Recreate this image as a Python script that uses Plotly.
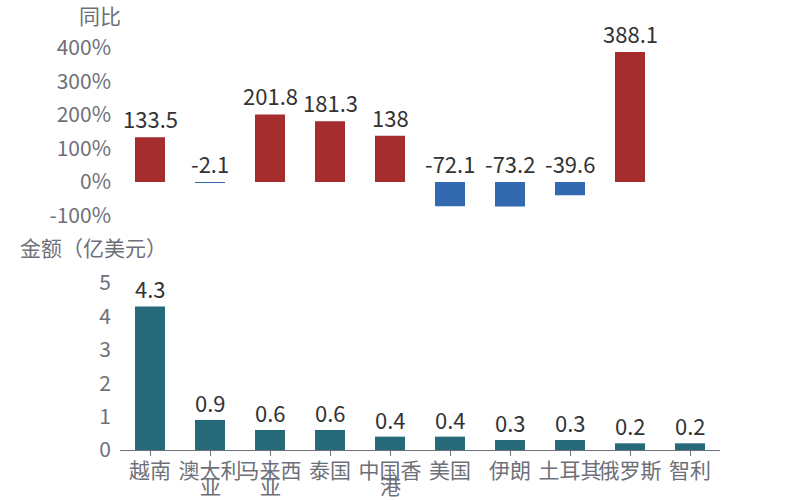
import plotly.graph_objects as go

categories = ["越南", "澳大利亚", "马来西亚", "泰国", "中国香港", "美国", "伊朗", "土耳其", "俄罗斯", "智利"]
yoy = [133.5, -2.1, 201.8, 181.3, 138, -72.1, -73.2, -39.6, 388.1, None]
amount = [4.3, 0.9, 0.6, 0.6, 0.4, 0.4, 0.3, 0.3, 0.2, 0.2]
yoy_ticks = [-100, 0, 100, 200, 300, 400]
amt_ticks = [0, 1, 2, 3, 4, 5]

FONT = "Noto Sans CJK SC"
GRAY = "#6e7079"
DARK = "#333333"
RED = "#a52d2d"
BLUE = "#3269af"
TEAL = "#266a7a"
FS = 21
LFS = 22
CFS = 21

xs = list(range(len(categories)))
yoy_colors = [RED if (v is not None and v >= 0) else BLUE for v in yoy]
first_lines = [c[:3] for c in categories]
second_lines = [c[3:] for c in categories]

fig = go.Figure()
fig.add_trace(go.Bar(x=xs, y=yoy, marker=dict(color=yoy_colors, line=dict(width=0)), width=0.5,
                     xaxis="x", yaxis="y", hoverinfo="skip"))
fig.add_trace(go.Bar(x=xs, y=amount, marker=dict(color=TEAL, line=dict(width=0)), width=0.5,
                     xaxis="x2", yaxis="y2", hoverinfo="skip"))

annotations = [
    dict(text="同比", x=100 / 800, y=1 - 15 / 500, xref="paper", yref="paper", showarrow=False,
         xanchor="center", yanchor="middle", font=dict(family=FONT, size=FS, color=GRAY)),
    dict(text="金额（亿美元）", x=93 / 800, y=1 - 247 / 500, xref="paper", yref="paper",
         showarrow=False, xanchor="center", yanchor="middle",
         font=dict(family=FONT, size=FS, color=GRAY)),
]
for x, v in zip(xs, yoy):
    if v is None:
        continue
    annotations.append(dict(text=f"{v:g}", x=x, y=max(v, 0), xref="x", yref="y", showarrow=False,
                            xanchor="center", yanchor="bottom", yshift=1,
                            font=dict(family=FONT, size=LFS, color=DARK)))
for x, v in zip(xs, amount):
    annotations.append(dict(text=f"{v:g}", x=x, y=v, xref="x2", yref="y2", showarrow=False,
                            xanchor="center", yanchor="bottom", yshift=0,
                            font=dict(family=FONT, size=LFS, color=DARK)))
for x, s in zip(xs, second_lines):
    if s:
        annotations.append(dict(text=s, x=x, y=0, xref="x2", yref="y2", showarrow=False,
                                xanchor="center", yanchor="middle", yshift=-35, borderpad=0,
                                font=dict(family=FONT, size=CFS, color=GRAY)))

fig.update_layout(
    width=800, height=500,
    margin=dict(l=0, r=0, t=0, b=0),
    paper_bgcolor="white", plot_bgcolor="white",
    showlegend=False,
    font=dict(family=FONT, size=FS, color=GRAY),
    xaxis=dict(domain=[0.15, 0.9], range=[-0.5, 9.5], anchor="y", showticklabels=False,
               showline=False, showgrid=False, zeroline=False, ticks="", automargin=False),
    yaxis=dict(domain=[0.569, 0.904], range=[-100, 400], anchor="x", tickvals=yoy_ticks,
               ticktext=[f"{t}%" for t in yoy_ticks], showgrid=False, zeroline=False,
               showline=False, ticks="", ticklabelstandoff=8, automargin=False,
               tickfont=dict(family=FONT, size=FS, color=GRAY)),
    xaxis2=dict(domain=[0.15, 0.9], range=[-0.5, 9.5], anchor="y2", tickvals=xs,
                ticktext=first_lines, showline=True, linecolor=GRAY, linewidth=1,
                ticks="outside", ticklen=5, tickcolor=GRAY, showgrid=False, zeroline=False,
                tickangle=0, automargin=False, ticklabelstandoff=-3,
                tickfont=dict(family=FONT, size=CFS, color=GRAY)),
    yaxis2=dict(domain=[0.1, 0.434], range=[0, 5], anchor="x2", tickvals=amt_ticks,
                showgrid=False, zeroline=False, showline=False, ticks="", ticklabelstandoff=8,
                automargin=False,
                tickfont=dict(family=FONT, size=FS, color=GRAY)),
    annotations=annotations,
)

fig.write_html("out.html")
